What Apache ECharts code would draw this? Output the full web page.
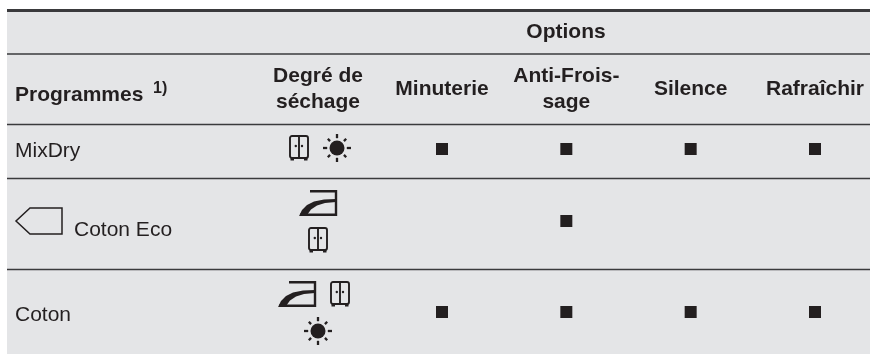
<!DOCTYPE html>
<html>
<head>
<meta charset="utf-8">
<title>Programmes</title>
<style>
  html, body { margin: 0; padding: 0; background: #fff; }
  #chart { width: 870px; height: 354px; }
</style>
</head>
<body>
<div id="chart"></div>
<script src="https://cdn.jsdelivr.net/npm/echarts@6/dist/echarts.min.js"></script>
<script>
// table content
const groupTitle = 'Options';
const programmeTitle = 'Programmes';
const footnote = '1)';
const dryingTitle = ['Degré de', 'séchage'];
const optionNames = ['Minuterie', 'Anti-Frois-\nsage', 'Silence', 'Rafraîchir'];
const programmes = ['MixDry', 'Coton Eco', 'Coton'];

// 1 = the option is available for the programme
const mixDryOptions = [1, 1, 1, 1];
const cotonEcoOptions = [0, 1, 0, 0];
const cotonOptions = [1, 1, 1, 1];

const INK = '#231f20';
const PANEL = '#e4e5e7';
const RULE = '#3a3a3c';
const FONT = '"Liberation Sans", Arial, sans-serif';

const chart = echarts.init(document.getElementById('chart'));

// one grid per table row, rows do not have the same height
const optionRows = [
  {values: mixDryOptions, top: 122, height: 54},
  {values: cotonEcoOptions, top: 194, height: 54},
  {values: cotonOptions, top: 285, height: 54}
];

// x axes run from the centre of the first option column to the centre of the last
const optionLeft = 442;
const optionWidth = 373;

function text(str, x, y, opts) {
  return {
    type: 'text', x: x, y: y,
    style: Object.assign({
      text: str, fill: INK, font: 'normal 21px ' + FONT,
      align: 'left', verticalAlign: 'middle'
    }, opts || {})
  };
}

function rule(y, width) {
  return {
    type: 'line',
    shape: {x1: 7, y1: y, x2: 870, y2: y},
    style: {stroke: RULE, lineWidth: width}
  };
}

// armoire icon
function wardrobe(x, y) {
  const line = {stroke: INK, lineWidth: 1.9, fill: null};
  return {
    type: 'group', x: x, y: y,
    children: [
      {type: 'rect', shape: {x: 1, y: 1, width: 18, height: 22, r: 2}, style: line},
      {type: 'line', shape: {x1: 10, y1: 1, x2: 10, y2: 23}, style: line},
      {type: 'rect', shape: {x: 1.5, y: 22, width: 3.5, height: 3.5}, style: {fill: INK}},
      {type: 'rect', shape: {x: 15, y: 22, width: 3.5, height: 3.5}, style: {fill: INK}},
      {type: 'circle', shape: {cx: 6.8, cy: 11, r: 1.2}, style: {fill: INK}},
      {type: 'circle', shape: {cx: 13, cy: 11, r: 1.2}, style: {fill: INK}}
    ]
  };
}

// soleil icon, x/y is the centre
function sun(x, y) {
  const children = [{type: 'circle', shape: {cx: 0, cy: 0, r: 7.5}, style: {fill: INK}}];
  for (let i = 0; i < 8; i++) {
    const a = i * Math.PI / 4;
    const long = i % 2 === 0 ? 14 : 13;
    children.push({
      type: 'line',
      shape: {
        x1: Math.cos(a) * 9.8, y1: Math.sin(a) * 9.8,
        x2: Math.cos(a) * long, y2: Math.sin(a) * long
      },
      style: {stroke: INK, lineWidth: 2.3}
    });
  }
  return {type: 'group', x: x, y: y, children: children};
}

// fer a repasser icon
function iron(x, y) {
  return {
    type: 'group', x: x, y: y,
    children: [
      {
        type: 'polyline',
        shape: {points: [[11, 1.2], [37, 1.2], [37, 24.8], [1, 24.8]]},
        style: {stroke: INK, lineWidth: 2.4, fill: null}
      },
      {
        type: 'polygon',
        shape: {points: [[0, 26], [3, 20], [8, 15], [15, 11.5], [25, 9.5], [37, 9], [37, 12],
          [26, 13], [18, 15.5], [12, 19.5], [8, 25]]},
        style: {fill: INK}
      }
    ]
  };
}

const grids = [{left: optionLeft, top: 88, width: optionWidth, height: 1}];
const xAxes = [{
  gridIndex: 0, type: 'category', data: optionNames, boundaryGap: false,
  axisLine: {show: false}, axisTick: {show: false},
  axisLabel: {
    show: true, interval: 0, margin: 0, color: INK, fontFamily: FONT,
    fontWeight: 'bold', fontSize: 21, lineHeight: 26, verticalAlign: 'middle'
  }
}];
const yAxes = [{gridIndex: 0, type: 'category', data: ['h'], show: false}];
const series = [];

optionRows.forEach(function (row, i) {
  grids.push({left: optionLeft, top: row.top, width: optionWidth, height: row.height});
  xAxes.push({gridIndex: i + 1, type: 'category', data: optionNames, boundaryGap: false, show: false});
  yAxes.push({gridIndex: i + 1, type: 'category', data: [programmes[i]], show: false});
  series.push({
    type: 'scatter',
    xAxisIndex: i + 1,
    yAxisIndex: i + 1,
    symbol: 'rect',
    symbolSize: 12,
    itemStyle: {color: INK, opacity: 1},
    silent: true,
    data: optionNames
      .map(function (name, k) { return row.values[k] ? [k, 0] : null; })
      .filter(Boolean)
  });
});

const option = {
  animation: false,
  backgroundColor: '#fff',
  grid: grids,
  xAxis: xAxes,
  yAxis: yAxes,
  series: series,
  graphic: [
    {type: 'rect', z: -1, shape: {x: 7, y: 10, width: 863, height: 344}, style: {fill: PANEL}},
    rule(10.5, 3),
    rule(54, 1.5),
    rule(124.5, 1.5),
    rule(178.5, 1.5),
    rule(269.5, 1.5),

    text(groupTitle, 566, 32, {font: 'bold 21px ' + FONT, align: 'center'}),
    text(programmeTitle, 15, 95, {font: 'bold 21px ' + FONT}),
    text(footnote, 153, 89, {font: 'bold 16px ' + FONT}),
    text(dryingTitle[0], 318, 76, {font: 'bold 21px ' + FONT, align: 'center'}),
    text(dryingTitle[1], 318, 102, {font: 'bold 21px ' + FONT, align: 'center'}),

    text(programmes[0], 15, 151),
    text(programmes[1], 74, 230),
    text(programmes[2], 15, 315),

    // etiquette devant Coton Eco
    {
      type: 'polygon',
      shape: {points: [[62, 208], [30, 208], [16, 221], [30, 234], [62, 234]]},
      style: {stroke: INK, lineWidth: 1.5, fill: null}
    },

    wardrobe(289, 135), sun(337, 148),
    iron(299, 190), wardrobe(308, 227),
    iron(278, 281), wardrobe(330, 281), sun(318, 331)
  ]
};

chart.setOption(option);
</script>
</body>
</html>
